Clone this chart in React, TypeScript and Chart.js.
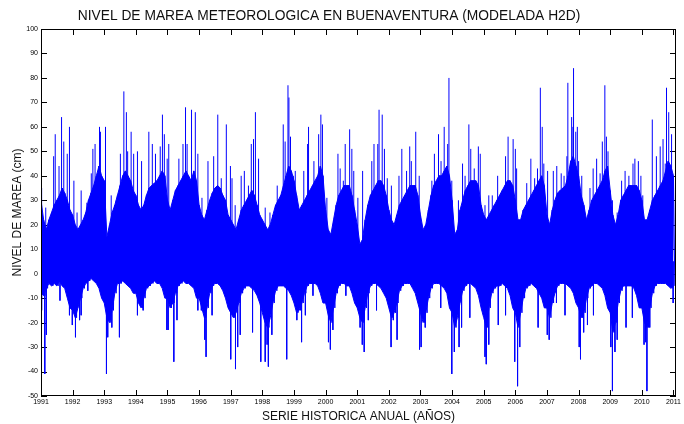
import React, { useEffect, useRef } from 'react';
import { Chart, registerables } from 'chart.js';

Chart.register(...registerables);

const TITLE = 'NIVEL DE MAREA METEOROLOGICA EN BUENAVENTURA (MODELADA H2D)';
const X_TITLE = 'SERIE HISTORICA ANUAL (AÑOS)';
const Y_TITLE = 'NIVEL DE MAREA (cm)';

const YEAR_TICKS = [1991, 1992, 1993, 1994, 1995, 1996, 1997, 1998, 1999, 2000, 2001, 2002, 2003, 2004, 2005, 2006, 2007, 2008, 2009, 2010, 2011];
const YEAR_LABELS = ['1991', '1992', '1993', '1994', '1995', '1996', '1997', '1998', '1999', '2000', '2001', '2002', '2003', '2004', '2005', '2006', '2007', '2008', '2009', '2010', '2011'];
const LEVEL_MIN = -50;
const LEVEL_MAX = 100;
const LEVEL_STEP = 10;
const START_YEAR = 1991;
const END_YEAR = 2011.08;

// Dense band of the hourly series: monthly upper / lower envelope (cm), Jan 1991 .. Dec 2010, then Jan 2011
const BAND_TOP = [
  30, 22, 18, 22, 25, 28, 30, 32, 35, 33, 30, 26,
  24, 20, 18, 20, 22, 25, 30, 33, 36, 40, 44, 40,
  38, 15, 20, 25, 28, 32, 36, 40, 42, 40, 38, 34,
  32, 28, 26, 28, 32, 35, 36, 37, 38, 40, 42, 40,
  30, 26, 30, 34, 36, 38, 40, 42, 40, 38, 42, 38,
  28, 24, 22, 26, 30, 33, 35, 36, 35, 32, 30, 24,
  22, 20, 18, 22, 26, 28, 30, 32, 34, 32, 28, 24,
  22, 20, 18, 20, 24, 28, 30, 32, 36, 40, 44, 42,
  38, 32, 26, 28, 30, 32, 34, 36, 38, 40, 44, 40,
  26, 18, 16, 22, 28, 32, 34, 36, 36, 36, 32, 26,
  20, 12, 14, 22, 28, 32, 34, 36, 38, 38, 36, 32,
  26, 22, 20, 24, 28, 30, 32, 34, 36, 36, 36, 32,
  24, 18, 20, 26, 32, 36, 38, 40, 40, 42, 44, 40,
  30, 16, 18, 26, 30, 34, 36, 38, 38, 38, 36, 28,
  24, 22, 24, 26, 28, 30, 32, 34, 36, 38, 38, 36,
  30, 22, 22, 26, 28, 30, 32, 34, 36, 38, 40, 36,
  24, 20, 26, 30, 33, 34, 35, 36, 40, 46, 48, 44,
  40, 32, 28, 22, 26, 30, 32, 34, 36, 38, 42, 44,
  34, 24, 20, 24, 30, 32, 34, 36, 36, 36, 36, 34,
  30, 22, 22, 26, 30, 32, 34, 36, 38, 42, 46, 44,
  40,
];
const BAND_BOTTOM = [
  -8, -9, -6, -4, -5, -4, -5, -3, -5, -6, -10, -14,
  -15, -18, -14, -10, -6, -4, -3, -2, -3, -4, -6, -10,
  -12, -18, -20, -15, -8, -4, -4, -3, -4, -5, -6, -8,
  -8, -12, -14, -10, -6, -5, -4, -3, -4, -4, -6, -10,
  -10, -14, -12, -8, -5, -4, -3, -4, -4, -5, -6, -10,
  -10, -14, -18, -14, -8, -5, -4, -4, -5, -7, -10, -14,
  -16, -18, -16, -12, -8, -6, -5, -5, -6, -7, -9, -12,
  -16, -20, -22, -18, -12, -7, -5, -5, -5, -6, -7, -9,
  -12, -16, -15, -12, -8, -5, -4, -4, -4, -5, -8, -12,
  -12, -17, -20, -14, -8, -5, -4, -4, -5, -5, -8, -12,
  -14, -18, -20, -14, -8, -5, -4, -4, -5, -6, -8, -10,
  -14, -18, -16, -12, -7, -5, -4, -4, -4, -6, -8, -12,
  -16, -20, -16, -10, -6, -4, -4, -4, -5, -6, -8, -14,
  -16, -22, -18, -12, -7, -5, -4, -4, -5, -6, -9, -14,
  -18, -22, -14, -8, -6, -5, -5, -4, -5, -6, -9, -14,
  -16, -22, -16, -10, -6, -5, -4, -5, -6, -8, -10, -14,
  -14, -18, -12, -8, -5, -4, -4, -4, -5, -6, -8, -12,
  -14, -18, -16, -10, -6, -5, -4, -4, -5, -6, -9, -14,
  -16, -24, -20, -12, -7, -5, -5, -5, -5, -6, -9, -14,
  -14, -20, -22, -14, -8, -5, -4, -4, -4, -4, -5, -6,
  -5,
];

// Individual surge peaks (decimal year, cm)
const PEAK_TIMES = [
  1991.02, 1991.15, 1991.40, 1991.45, 1991.57, 1991.65, 1991.72, 1991.83, 1991.90,
  1992.04, 1992.14, 1992.27, 1992.45, 1992.59, 1992.64, 1992.71, 1992.85, 1992.88,
  1993.04, 1993.22, 1993.38, 1993.51, 1993.62, 1993.70, 1993.74, 1993.85, 1993.93,
  1994.05, 1994.18, 1994.41, 1994.52, 1994.62, 1994.77, 1994.84, 1994.90, 1994.99,
  1995.04, 1995.36, 1995.49, 1995.57, 1995.62, 1995.76, 1995.88, 1995.96,
  1996.09, 1996.28, 1996.46, 1996.59, 1996.70, 1996.86, 1996.99,
  1997.04, 1997.14, 1997.33, 1997.43, 1997.56, 1997.65, 1997.72, 1997.78, 1997.88,
  1998.09, 1998.24, 1998.35, 1998.47, 1998.54, 1998.66, 1998.72, 1998.81, 1998.84, 1998.89, 1998.98,
  1999.04, 1999.31, 1999.43, 1999.46, 1999.63, 1999.78, 1999.85, 1999.90,
  2000.04, 2000.17, 2000.39, 2000.46, 2000.56, 2000.62, 2000.76, 2000.83, 2000.89,
  2001.02, 2001.17, 2001.46, 2001.53, 2001.65, 2001.69, 2001.79, 2001.86, 2001.95,
  2002.08, 2002.21, 2002.32, 2002.41, 2002.56, 2002.66, 2002.71, 2002.85, 2002.96,
  2003.36, 2003.44, 2003.57, 2003.65, 2003.75, 2003.86, 2003.90,
  2003.99, 2004.20, 2004.33, 2004.41, 2004.53, 2004.59, 2004.70, 2004.83, 2004.89,
  2005.04, 2005.16, 2005.27, 2005.44, 2005.54, 2005.69, 2005.77, 2005.93, 2006.00,
  2006.04, 2006.25, 2006.36, 2006.49, 2006.61, 2006.70, 2006.79, 2006.85, 2006.90,
  2007.02, 2007.20, 2007.31, 2007.45, 2007.54, 2007.63, 2007.66, 2007.78, 2007.82, 2007.84, 2007.91, 2007.96,
  2008.00, 2008.10, 2008.36, 2008.46, 2008.57, 2008.68, 2008.75, 2008.83, 2008.88, 2008.93,
  2009.07, 2009.22, 2009.36, 2009.47, 2009.59, 2009.72, 2009.78, 2009.89, 2009.97,
  2010.03, 2010.22, 2010.33, 2010.46, 2010.58, 2010.67, 2010.74, 2010.78, 2010.85, 2010.94, 2010.98,
];
const PEAK_VALUES = [
  35, 27, 48, 57, 44, 64, 54, 49, 60,
  38, 25, 34, 29, 41, 51, 53, 60, 58,
  60, 32, 30, 49, 74.5, 66, 50, 58, 49,
  50, 46, 58, 53, 49, 52, 65, 57, 47,
  53, 47, 53, 68, 53, 67, 66, 49,
  31, 46, 48, 65, 39, 61, 44,
  39, 28, 40, 42, 36, 53, 55, 66, 47,
  27, 25, 22, 36, 24, 61, 54, 77, 72, 56, 40,
  42, 42, 53, 60, 46, 57, 65, 61,
  31, 14, 49, 43, 38, 53, 59, 51, 42,
  31, 42, 46, 53, 53, 67, 65, 51, 39,
  36, 21, 40, 51, 42, 52, 46, 58, 40,
  38, 49, 57, 46, 60, 53, 80,
  38, 30, 45, 40, 61, 51, 43, 52, 49,
  28, 32, 32, 40, 32, 48, 56, 55, 51,
  43, 26, 37, 47, 39, 43, 76, 60, 45,
  42, 42, 44, 41, 40, 48, 78, 64, 60, 84, 58, 60,
  46, 40, 35, 43, 47, 41, 54, 77, 56, 50,
  30, 25, 38, 42, 40, 45, 47, 46, 40,
  32, 23, 63, 48, 52, 55, 45, 76, 66, 57, 40,
];

// Individual negative surges (decimal year, cm)
const TROUGH_TIMES = [
  1991.02, 1991.12, 1991.17, 1991.60, 1991.90,
  1991.99, 1992.09, 1992.22, 1992.27, 1992.48,
  1993.07, 1993.11, 1993.18, 1993.24, 1993.48,
  1994.05, 1994.23, 1994.98,
  1995.02, 1995.20, 1995.30, 1995.96,
  1996.07, 1996.18, 1996.22, 1996.41,
  1997.00, 1997.15, 1997.22, 1997.30, 1997.69,
  1997.95, 1998.09, 1998.15, 1998.19, 1998.30, 1998.77,
  1999.09, 1999.24, 1999.36, 1999.60,
  2000.09, 2000.15, 2000.23, 2000.64,
  2001.09, 2001.16, 2001.22, 2001.35, 2001.61,
  2002.07, 2002.14, 2002.26,
  2002.97, 2003.02, 2003.15, 2003.64,
  2003.99, 2004.07, 2004.22, 2004.30, 2004.56,
  2005.04, 2005.08, 2005.16, 2005.46, 2005.69,
  2005.98, 2006.07, 2006.14, 2006.72,
  2007.01, 2007.07, 2007.30, 2007.57,
  2008.02, 2008.06, 2008.16, 2008.28, 2008.47,
  2009.02, 2009.07, 2009.15, 2009.22, 2009.50, 2009.70,
  2010.07, 2010.12, 2010.16, 2010.25, 2010.99,
];
const TROUGH_VALUES = [
  -15, -41, -25, -11, -17,
  -21, -26, -19, -17, -7,
  -41, -26, -19, -22, -26,
  -17, -15, -23,
  -23, -36, -19, -15,
  -15, -27, -34, -17,
  -35, -39, -30, -25, -24,
  -36, -36, -29, -38, -25, -35,
  -19, -28, -17, -9,
  -28, -31, -23, -9,
  -22, -29, -32, -19, -15,
  -30, -19, -27,
  -31, -30, -22, -14,
  -41, -32, -30, -22, -18,
  -34, -37, -29, -21, -17,
  -36, -46, -30, -22,
  -25, -27, -12, -17,
  -30, -35, -24, -21, -17,
  -30, -48, -32, -27, -22, -18,
  -29, -28, -48, -22, -12,
];
const PEAK_BASE = 10;
const TROUGH_BASE = 5;

const BLUE = '#0000ff';

const monthly = (values: number[]) => values.map((v, i) => ({ x: START_YEAR + i / 12, y: v }));

const zigzagPoints = () => {
  const pts: { x: number; y: number }[] = [];
  BAND_TOP.forEach((top, i) => {
    const t = START_YEAR + i / 12;
    pts.push({ x: t, y: top });
    pts.push({ x: t + 1 / 24, y: BAND_BOTTOM[i] });
  });
  return pts;
};

const spikePoints = (times: number[], values: number[], base: number) => {
  const pts: { x: number; y: number | null }[] = [];
  times.forEach((t, i) => {
    pts.push({ x: t, y: base });
    pts.push({ x: t, y: values[i] });
    pts.push({ x: t, y: null });
  });
  return pts;
};

const framePlugin = {
  id: 'matlabFrame',
  beforeDatasetsDraw(chart: any) {
    const { ctx, chartArea, scales } = chart;
    const { left, right, top, bottom } = chartArea;
    ctx.save();
    ctx.strokeStyle = '#000';
    ctx.lineWidth = 1;
    ctx.beginPath();
    scales.x.ticks.forEach((tk: any) => {
      const px = Math.round(scales.x.getPixelForValue(tk.value)) + 0.5;
      ctx.moveTo(px, top);
      ctx.lineTo(px, top + 6);
      ctx.moveTo(px, bottom);
      ctx.lineTo(px, bottom - 6);
    });
    scales.y.ticks.forEach((tk: any) => {
      const py = Math.round(scales.y.getPixelForValue(tk.value)) + 0.5;
      ctx.moveTo(left, py);
      ctx.lineTo(left + 6, py);
      ctx.moveTo(right, py);
      ctx.lineTo(right - 6, py);
    });
    ctx.stroke();
    ctx.restore();
  },
  afterDatasetsDraw(chart: any) {
    const { ctx, chartArea } = chart;
    const { left, right, top, bottom } = chartArea;
    ctx.save();
    ctx.strokeStyle = '#000';
    ctx.lineWidth = 1;
    ctx.strokeRect(Math.round(left) + 0.5, Math.round(top) + 0.5, Math.round(right - left) - 1, Math.round(bottom - top) - 1);
    ctx.restore();
  },
  afterDraw(chart: any) {
    const { ctx } = chart;
    ctx.save();
    ctx.fillStyle = '#111';
    ctx.font = '13.8px "Liberation Sans", Arial, sans-serif';
    ctx.textAlign = 'center';
    ctx.textBaseline = 'middle';
    ctx.fillText(TITLE, 329, 16);
    ctx.restore();
  },
};

export default function App() {
  const canvasRef = useRef<HTMLCanvasElement | null>(null);

  useEffect(() => {
    document.body.style.margin = '0';
    const canvas = canvasRef.current;
    if (!canvas) return;
    const lineBase = {
      borderColor: BLUE,
      borderWidth: 1,
      pointRadius: 0,
      tension: 0,
    };
    const chart = new Chart(canvas, {
      type: 'line',
      data: {
        datasets: [
          { ...lineBase, label: 'peaks', data: spikePoints(PEAK_TIMES, PEAK_VALUES, PEAK_BASE), spanGaps: false, fill: false },
          { ...lineBase, label: 'troughs', data: spikePoints(TROUGH_TIMES, TROUGH_VALUES, TROUGH_BASE), spanGaps: false, fill: false },
          { ...lineBase, label: 'bandTop', data: monthly(BAND_TOP), fill: { target: '+1' }, backgroundColor: BLUE },
          { ...lineBase, label: 'bandBottom', data: monthly(BAND_BOTTOM), fill: false },
          { ...lineBase, label: 'nivel', data: zigzagPoints(), fill: false },
        ],
      },
      options: {
        responsive: false,
        animation: false,
        devicePixelRatio: 1,
        layout: { padding: { top: 29, right: 8, left: 0, bottom: 0 } },
        plugins: {
          legend: { display: false },
          tooltip: { enabled: false },
          title: { display: false },
          filler: { propagate: false },
        },
        scales: {
          x: {
            type: 'linear',
            min: START_YEAR,
            max: END_YEAR,
            afterBuildTicks: (s: any) => {
              s.ticks = YEAR_TICKS.map((v) => ({ value: v }));
            },
            afterFit: (s: any) => {
              s.height = 28;
            },
            grid: { display: false, drawTicks: false },
            border: { display: false },
            ticks: {
              autoSkip: false,
              maxRotation: 0,
              minRotation: 0,
              padding: 2,
              color: '#000',
              font: { size: 7, family: '"Liberation Sans", Arial, sans-serif' },
              callback: (v: any) => {
                const i = YEAR_TICKS.indexOf(Number(v));
                return i >= 0 ? YEAR_LABELS[i] : '';
              },
            },
            title: {
              display: true,
              text: X_TITLE,
              color: '#111',
              font: { size: 12, family: '"Liberation Sans", Arial, sans-serif' },
              padding: { top: 0, bottom: 0 },
            },
          },
          y: {
            type: 'linear',
            min: LEVEL_MIN,
            max: LEVEL_MAX,
            afterFit: (s: any) => {
              s.width = 41;
            },
            grid: { display: false, drawTicks: false },
            border: { display: false },
            ticks: {
              stepSize: LEVEL_STEP,
              padding: 3,
              color: '#000',
              font: { size: 7, family: '"Liberation Sans", Arial, sans-serif' },
            },
            title: {
              display: true,
              text: Y_TITLE,
              color: '#111',
              font: { size: 12, family: '"Liberation Sans", Arial, sans-serif' },
              padding: { top: 10, bottom: 0 },
            },
          },
        },
      },
      plugins: [framePlugin],
    } as any);
    return () => {
      chart.destroy();
    };
  }, []);

  return (
    <div style={{ width: 684, height: 424 }}>
      <canvas ref={canvasRef} width={684} height={424} style={{ display: 'block' }} />
    </div>
  );
}
